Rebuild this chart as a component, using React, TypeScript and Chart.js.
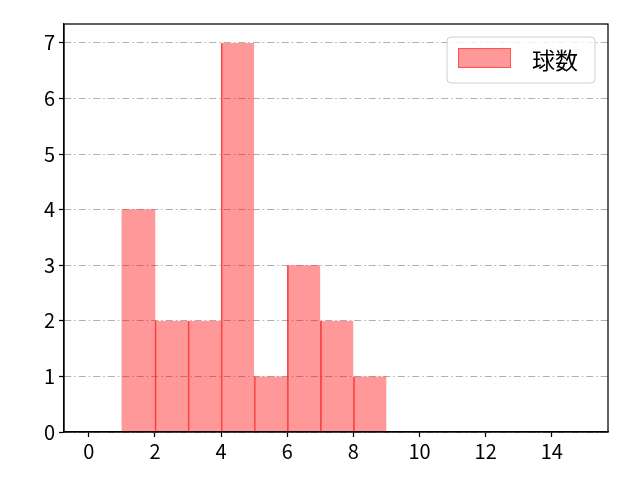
import { useEffect, useRef } from 'react'
import { Chart, registerables } from 'chart.js'
import type { Plugin } from 'chart.js'

Chart.register(...registerables)

// histogram bins (left edges) and counts
const BIN_STARTS = [1, 2, 3, 4, 5, 6, 7, 8]
const COUNTS = [4, 2, 2, 7, 1, 3, 2, 1]
const BIN_WIDTH = 1
const SERIES_LABEL = '球数'
const X_TICKS = [0, 2, 4, 6, 8, 10, 12, 14]
const Y_TICKS = [0, 1, 2, 3, 4, 5, 6, 7]

const FONT = "'Noto Sans CJK JP', 'DejaVu Sans', sans-serif"
const FILL = 'rgba(255,0,0,0.4)'
const EDGE = 'rgba(255,0,0,0.7)'

// closes the box on top and right like matplotlib spines
const frame: Plugin<'bar'> = {
  id: 'frame',
  afterDraw(chart) {
    const { ctx, chartArea: a } = chart
    ctx.save()
    ctx.strokeStyle = '#000'
    ctx.lineWidth = 1.25
    ctx.strokeRect(a.left, a.top, a.right - a.left, a.bottom - a.top)
    ctx.restore()
  },
}

// legend drawn inside the plot, upper right
const innerLegend: Plugin<'bar'> = {
  id: 'innerLegend',
  afterDraw(chart) {
    const { ctx, chartArea: a } = chart
    const label = String(chart.data.datasets[0].label ?? '')
    const w = 148
    const h = 46
    const x = a.right - 13 - w
    const y = a.top + 13
    ctx.save()
    ctx.beginPath()
    ctx.roundRect(x, y, w, h, 4)
    ctx.fillStyle = 'rgba(255,255,255,0.8)'
    ctx.fill()
    ctx.strokeStyle = '#d0d0d0'
    ctx.lineWidth = 1
    ctx.stroke()
    ctx.fillStyle = FILL
    ctx.fillRect(x + 11, y + 11, 53, 20)
    ctx.strokeStyle = 'rgba(255,0,0,0.45)'
    ctx.strokeRect(x + 11.5, y + 11.5, 52, 19)
    ctx.fillStyle = '#000'
    ctx.font = `23px ${FONT}`
    ctx.textBaseline = 'middle'
    ctx.fillText(label, x + 85, y + h / 2)
    ctx.restore()
  },
}

export default function App() {
  const ref = useRef<HTMLCanvasElement>(null)

  useEffect(() => {
    if (!ref.current) return
    const chart = new Chart(ref.current, {
      type: 'bar',
      data: {
        datasets: [{
          label: SERIES_LABEL,
          data: BIN_STARTS.map((s, i) => ({ x: s + BIN_WIDTH / 2, y: COUNTS[i] })),
          backgroundColor: FILL,
          borderColor: EDGE,
          borderWidth: (c: any) => (c.dataIndex === 0 ? 0 : { left: 1, right: 0, top: 0, bottom: 0 }),
          borderSkipped: false,
          barPercentage: 1,
          categoryPercentage: 1,
        }],
      },
      options: {
        responsive: false,
        animation: false,
        layout: { padding: { top: 24, right: 32, left: 0, bottom: 0 } },
        plugins: {
          legend: { display: false },
          tooltip: { enabled: false },
        },
        scales: {
          x: {
            type: 'linear',
            min: -0.75,
            max: 15.7,
            offset: false,
            afterBuildTicks: (s) => { s.ticks = X_TICKS.map(v => ({ value: v })) },
            afterFit: (s) => { s.height = 48 },
            ticks: {
              color: '#000',
              font: { family: FONT, size: 20 },
              padding: 2,
              maxRotation: 0,
              autoSkip: false,
            },
            grid: {
              offset: false,
              drawOnChartArea: false,
              tickLength: 5,
              tickColor: '#000',
              tickWidth: 1.25,
            },
            border: { color: '#000', width: 1.25 },
          },
          y: {
            min: 0,
            max: 7.34,
            afterBuildTicks: (s) => { s.ticks = Y_TICKS.map(v => ({ value: v })) },
            afterFit: (s) => { s.width = 64 },
            ticks: {
              color: '#000',
              font: { family: FONT, size: 20 },
              padding: 4,
            },
            grid: {
              color: '#b0b0b0',
              lineWidth: 1,
              tickLength: 5,
              tickColor: '#000',
              tickWidth: 1.25,
            },
            border: { color: '#000', width: 1.25, dash: [7, 3, 1.5, 3] },
          },
        },
      },
      plugins: [frame, innerLegend],
    })
    return () => chart.destroy()
  }, [])

  return (
    <div style={{ position: 'fixed', left: 0, top: 0, width: 640, height: 480, background: '#fff' }}>
      <canvas ref={ref} width={640} height={480} style={{ width: 640, height: 480 }} />
    </div>
  )
}
